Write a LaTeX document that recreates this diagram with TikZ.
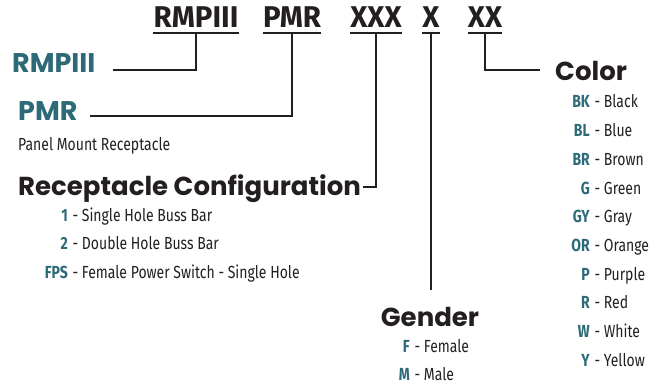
\documentclass[tikz,border=0pt]{standalone}
\usepackage{fontspec}
\newfontfamily\headfont{Poppins}
\newfontfamily\condfont[FakeStretch=0.8]{Fira Sans}
\newfontfamily\codefont[FakeStretch=0.98]{Fira Sans}
\definecolor{teal2}{HTML}{2D6A78}
\definecolor{ink}{HTML}{231F20}
\begin{document}
\begin{tikzpicture}[x=1pt,y=-1pt,
  code/.style={font=\codefont\bfseries\fontsize{30}{30}\selectfont, text=ink, inner sep=0, anchor=base},
  head/.style={font=\headfont\bfseries\fontsize{26}{26}\selectfont, text=ink, inner sep=0, anchor=base west},
  lbl/.style={head, font=\headfont\bfseries\fontsize{27}{27}\selectfont, text=teal2},
  key/.style={font=\condfont\bfseries\fontsize{17.5}{17.5}\selectfont, text=teal2, inner sep=0, anchor=base east},
  val/.style={font=\condfont\fontsize{17.5}{17.5}\selectfont, text=ink, inner sep=0, anchor=base west},
  conn/.style={line width=2.4pt, draw=ink},
  uline/.style={line width=2pt, draw=ink}]
\useasboundingbox (0,0) rectangle (663,385);
% top codes
\node[code] (c1) at (196,28) {RMPIII};
\node[code] (c2) at (292,28) {PMR};
\node[code] (c3) at (376,28) {XXX};
\node[code] (c4) at (431,28) {X};
\node[code] (c5) at (485,28) {XX};
\foreach \c in {c1,c2,c3,c4,c5}{
  \draw[uline] ([yshift=-5pt]\c.base west) -- ([yshift=-5pt]\c.base east);
  \coordinate (u\c) at ([yshift=-5pt]\c.base);
}
% labels
\node[lbl] (rmp) at (12,73) {RMPIII};
\node[lbl] (pmr) at (18,121) {PMR};
\node[val] (pmrd) at (18,150) {Panel Mount Receptacle};
\node[head] (conf) at (18,195) {Receptacle Configuration};
\node[head, anchor=base] (gen) at (430,326) {Gender};
\node[head] (col) at (555,81) {Color};
% connector ends
\coordinate (e1) at (113,70);
\coordinate (e2) at (90,116);
\coordinate (e3) at (363,187);
\coordinate (e4) at (431,290);
\coordinate (e5) at (540,70);
\draw[conn] (uc1) |- (e1);
\draw[conn] (uc2) |- (e2);
\draw[conn] (uc3) |- (e3);
\draw[conn] (uc4) -- (e4);
\draw[conn] (uc5) |- (e5);
% configuration list
\foreach \k/\t [count=\i] in {1/Single Hole Buss Bar, 2/Double Hole Buss Bar, FPS/Female Power Switch - Single Hole}{
  \node[key] (rk\i) at (68,{221+28.5*(\i-1)}) {\k};
  \node[val] (rv\i) at (rk\i.base east) {\hspace{0.25em}- \t};
}
% gender list
\foreach \k/\t [count=\i] in {F/Female, M/Male}{
  \node[key] (gk\i) at (410,{352+28*(\i-1)}) {\k};
  \node[val] (gv\i) at (gk\i.base east) {\hspace{0.25em}- \t};
}
% color list
\foreach \k/\t [count=\i] in {BK/Black, BL/Blue, BR/Brown, G/Green, GY/Gray, OR/Orange, P/Purple, R/Red, W/White, Y/Yellow}{
  \node[key] (ck\i) at (590,{108+28.67*(\i-1)}) {\k};
  \node[val] (cv\i) at (ck\i.base east) {\hspace{0.25em}- \t};
}
\end{tikzpicture}
\end{document}
